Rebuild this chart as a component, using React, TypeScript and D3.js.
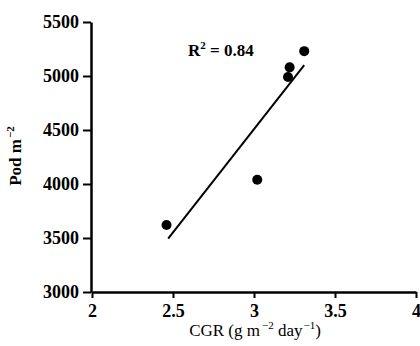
import React, { useEffect, useRef } from 'react';
import * as d3 from 'd3';

// CGR (g m-2 day-1) vs pods per m2
const cgr = [2.46, 3.02, 3.21, 3.22, 3.31];
const pods = [3620, 4040, 4990, 5080, 5230];

// fitted line endpoints as drawn
const fitX = [2.47, 3.31];
const fitY = [3495, 5100];

const xTicks = [2, 2.5, 3, 3.5, 4];
const yTicks = [3000, 3500, 4000, 4500, 5000, 5500];
const r2Label = '0.84';

const W = 420;
const H = 346;
const FONT = '"Liberation Serif", "Times New Roman", serif';

const App = () => {
  const svgRef = useRef<SVGSVGElement>(null);

  useEffect(() => {
    const svg = d3.select(svgRef.current);
    svg.selectAll('*').remove();

    const x = d3.scaleLinear().domain([2, 4]).range([92, 416]);
    const y = d3.scaleLinear().domain([3000, 5500]).range([292, 22]);

    // regression line
    const line = d3.line<number>()
      .x(d => x(fitX[d]))
      .y(d => y(fitY[d]));
    svg.append('path')
      .attr('d', line([0, 1]))
      .attr('fill', 'none')
      .attr('stroke', '#000')
      .attr('stroke-width', 2);

    svg.selectAll('.dot')
      .data(cgr.map((c, i) => [c, pods[i]]))
      .enter()
      .append('circle')
      .attr('cx', d => x(d[0]))
      .attr('cy', d => y(d[1]))
      .attr('r', 5)
      .attr('fill', '#000');

    const xAxis = d3.axisBottom(x)
      .tickValues(xTicks)
      .tickSize(6)
      .tickPadding(6)
      .tickSizeOuter(0)
      .tickFormat(d => String(d));
    const gx = svg.append('g')
      .attr('transform', `translate(0,${y(3000)})`)
      .call(xAxis);

    const yAxis = d3.axisLeft(y)
      .tickValues(yTicks)
      .tickSize(8)
      .tickPadding(4)
      .tickSizeOuter(0)
      .tickFormat(d => String(d));
    const gy = svg.append('g')
      .attr('transform', `translate(${x(2) - 1},0)`)
      .call(yAxis);

    [gx, gy].forEach(g => {
      g.select('.domain').attr('stroke-width', 2.5);
      g.selectAll('.tick line').attr('stroke-width', 2);
      g.selectAll('.tick text')
        .attr('font-family', FONT)
        .attr('font-size', 18)
        .attr('font-weight', 'bold')
        .attr('fill', '#000');
    });

    // R2 annotation
    const r2 = svg.append('text')
      .attr('x', 188)
      .attr('y', 56)
      .attr('font-family', FONT)
      .attr('font-size', 17)
      .attr('font-weight', 'bold');
    r2.append('tspan').text('R');
    r2.append('tspan').attr('dy', -7).attr('font-size', 11).text('2');
    r2.append('tspan').attr('dy', 7).text(` = ${r2Label}`);

    // x label
    const xl = svg.append('text')
      .attr('x', 255)
      .attr('y', 336)
      .attr('text-anchor', 'middle')
      .attr('font-family', FONT)
      .attr('font-size', 17);
    xl.append('tspan').text('CGR (g m');
    xl.append('tspan').attr('dx', 2).attr('dy', -7).attr('font-size', 11).text('\u22122');
    xl.append('tspan').attr('dy', 7).text(' day');
    xl.append('tspan').attr('dx', 1).attr('dy', -7).attr('font-size', 11).text('\u22121');
    xl.append('tspan').attr('dy', 7).text(')');

    // y label
    const yl = svg.append('text')
      .attr('transform', `translate(21,156) rotate(-90)`)
      .attr('text-anchor', 'middle')
      .attr('font-family', FONT)
      .attr('font-size', 17)
      .attr('font-weight', 'bold');
    yl.append('tspan').text('Pod m');
    yl.append('tspan').attr('dx', 1).attr('dy', -7).attr('font-size', 11).text('\u22122');
  }, []);

  return (
    <svg
      ref={svgRef}
      width={W}
      height={H}
      style={{ position: 'absolute', left: 0, top: 0, background: '#fff' }}
    />
  );
};

export default App;
